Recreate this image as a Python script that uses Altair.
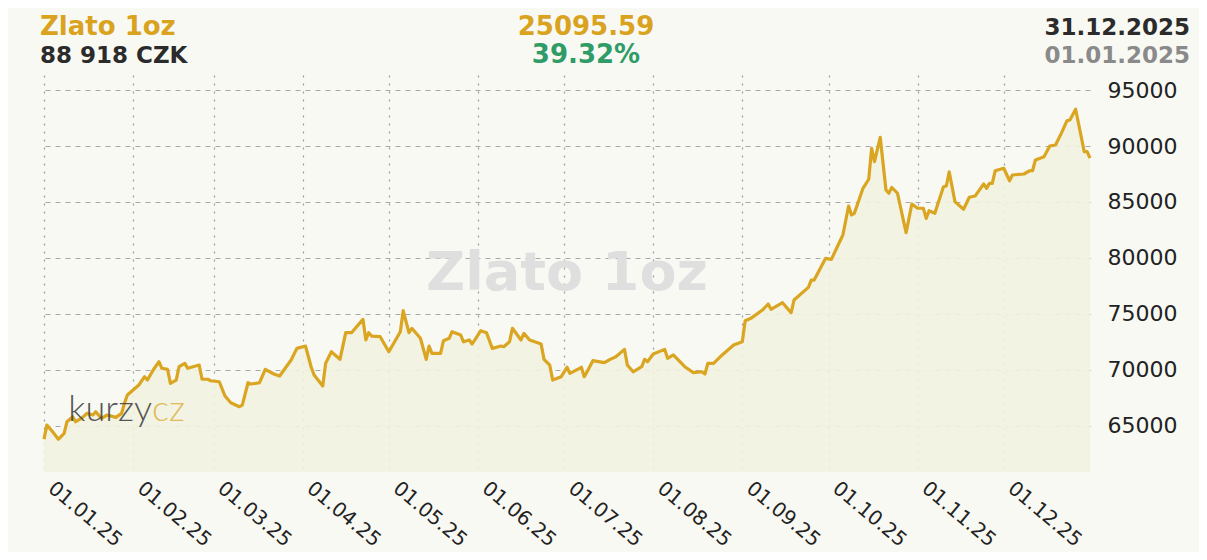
import altair as alt
import pandas as pd

# ---- data ----
day_offsets = [0,1,3,5,7,8,10,11,13,15,17,18,20,22,25,27,28,29,31,33,
35,36,38,40,41,43,44,46,47,49,50,54,55,57,58,61,63,65,68,69,
71,72,75,77,80,82,86,88,91,93,94,97,98,100,103,105,107,111,112,113,
114,117,120,124,125,127,128,131,133,134,135,138,139,141,142,145,146,148,149,152,
154,156,159,160,162,163,166,167,169,173,174,176,177,180,182,183,187,188,189,191,
195,197,199,202,203,205,208,209,210,212,216,217,219,223,226,229,230,231,233,236,
240,243,244,246,250,252,253,257,260,261,266,267,268,272,274,278,280,281,282,285,
287,288,289,291,293,294,295,297,300,302,304,306,307,308,310,313,314,315,317,320,
322,324,327,328,329,330,331,334,336,337,341,343,344,345,348,350,352,354,356,357,
359,362,363,364]

prices = [63820,65080,64490,63810,64340,65380,65830,65380,65680,66130,
65980,66270,65680,65980,65770,66130,67020,67760,68210,68660,
69400,69100,70000,70740,70150,70060,68810,69100,70290,70590,
70150,70440,69170,69170,69040,68950,67670,67080,66720,66870,
68860,68750,68860,70060,69640,69460,70890,71930,72140,70240,
69550,68570,70590,71630,70950,73330,73330,74520,72680,73330,
73030,72970,71630,73420,75290,73330,73720,72830,70950,72140,
71490,71490,72610,72830,73420,73120,72520,72680,72320,73510,
73330,71930,72140,72080,72520,73720,72680,73270,72680,72320,
70950,70440,69100,69400,70240,69700,70240,69400,69840,70830,
70650,70950,71180,71840,70440,69840,70290,70950,70740,71420,
71840,71040,71340,70290,69760,69840,69640,70590,70590,71340,
72230,72520,74400,74610,75350,75890,75420,76010,75110,76250,
77380,78030,78030,79970,79880,82050,84640,83840,83990,86220,
87030,89790,88600,90780,86070,85780,86310,85780,82260,84820,
84440,84440,83540,84220,83990,86360,86430,87700,85030,84350,
85420,85530,86610,86220,86670,86670,87790,88010,86900,87410,
87500,87790,87790,88750,89040,90000,90090,91130,92260,92320,
93280,89490,89490,88918]

y_ticks = [65000, 70000, 75000, 80000, 85000, 90000, 95000]
month_ticks = [1,2,3,4,5,6,7,8,9,10,11,12]
y_domain = [60890, 96340]

title_text = "Zlato 1oz"
price_text = "88 918 CZK"
change_abs_text = "25095.59"
change_pct_text = "39.32%"
date_end_text = "31.12.2025"
date_start_text = "01.01.2025"
logo_a = "kurzy"
logo_b = "cz"

start = pd.Timestamp("2025-01-01")
df = pd.DataFrame({
    "date": [(start + pd.Timedelta(days=d)).strftime("%Y-%m-%d") for d in day_offsets],
    "price": prices,
})
one = pd.DataFrame({"k": [0]})

W, H = 1046, 397
GOLD = "#d9a31f"
FONT = "DejaVu Sans"

x_enc = alt.X(
    "date:T",
    scale=alt.Scale(type="utc", domain=[alt.DateTime(year=2025, month=1, date=1, utc=True),
                                        alt.DateTime(year=2025, month=12, date=31, utc=True)]),
    axis=alt.Axis(
        values=[alt.DateTime(year=2025, month=m, date=1, utc=True) for m in month_ticks],
        labelExpr="utcFormat(datum.value, '%d.%m.%y')",
        labelAngle=40, labelAlign="left", labelBaseline="bottom",
        labelPadding=21, labelFontSize=20, labelFont=FONT, labelColor="#222222",
        labelOverlap=False, labelFlush=False, labelBound=False,
        ticks=False, domain=False, title=None,
        grid=True, gridDash=[2, 6], gridColor="#9a9a9a", gridWidth=1.2,
    ),
)
y_enc = alt.Y(
    "price:Q",
    scale=alt.Scale(domain=y_domain, zero=False, nice=False),
    axis=alt.Axis(
        orient="right", values=y_ticks, format="d",
        labelPadding=17, labelFontSize=22, labelFont=FONT, labelColor="#222222",
        labelAlign="left", labelBaseline="middle",
        ticks=False, domain=False, title=None,
        grid=True, gridDash=[5, 5], gridColor="#a8a8a8", gridWidth=1,
    ),
)

base = alt.Chart(df)

area = base.mark_area(color="#f2f2e1", opacity=0.9).encode(
    x=x_enc, y=y_enc, y2=alt.datum(y_domain[0])
)

watermark = alt.Chart(one).mark_text(
    text=title_text, x=523, y=215, align="center", baseline="alphabetic",
    font=FONT, fontWeight="bold", fontSize=54, color="#dfdfdf"
).encode()

line = base.mark_line(color="#daa520", strokeWidth=3.2, strokeJoin="round").encode(
    x="date:T", y="price:Q"
)

logo1 = alt.Chart(one).mark_text(
    text=logo_a, x=108, y=346, align="right", baseline="alphabetic",
    font="Lato", fontWeight=300, fontSize=36, color="#444444", opacity=0.9
).encode()
logo2 = alt.Chart(one).mark_text(
    text=logo_b, x=108, y=346, align="left", baseline="alphabetic",
    font="Lato", fontWeight=300, fontSize=36, color="#e0b64a", opacity=0.9
).encode()

def header(txt, x, y, align, color, size):
    return alt.Chart(one).mark_text(
        text=txt, x=x, y=y, align=align, baseline="alphabetic",
        font=FONT, fontWeight="bold", fontSize=size, color=color
    ).encode()

h1 = header(title_text, -4, -40, "left", GOLD, 26)
h2 = header(price_text, -4, -12, "left", "#2b2b2b", 23)
h3 = header(change_abs_text, 542, -40, "center", GOLD, 26)
h4 = header(change_pct_text, 542, -12, "center", "#2f9c68", 26)
h5 = header(date_end_text, 1146, -40, "right", "#2b2b2b", 23)
h6 = header(date_start_text, 1146, -12, "right", "#8a8a8a", 23)

chart = alt.layer(area, watermark, line, logo1, logo2, h1, h2, h3, h4, h5, h6).properties(
    width=W, height=H,
    autosize=alt.AutoSizeParams(type="none"),
    padding={"left": 36, "top": 67, "right": 109, "bottom": 80},
    background="#f9f9f4",
).configure_view(stroke=None)

chart.save("out.html", embed_options={"renderer": "svg", "actions": False})
